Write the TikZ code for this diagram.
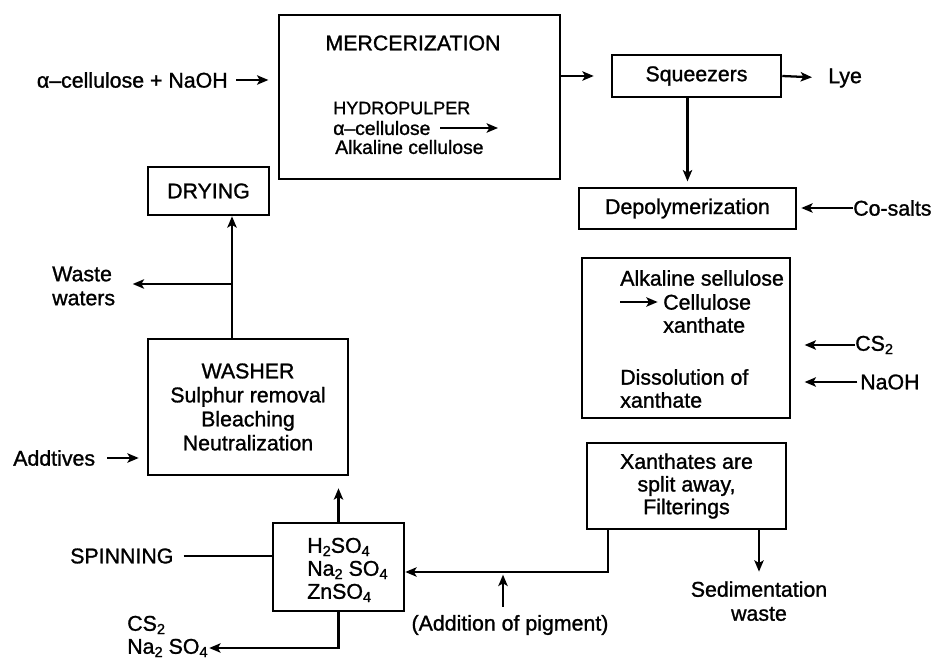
\documentclass[tikz,border=0pt]{standalone}
\usepackage{fontspec}
\setmainfont{Liberation Sans}
\newfontfamily\heavysans{Liberation Sans}[FakeBold=1.2]
\usetikzlibrary{arrows.meta}
% lowered small index for chemical formulas
\newcommand\chsub[1]{\raisebox{-0.3ex}{\fontsize{11}{11}\selectfont #1}}
\begin{document}
\begin{tikzpicture}[x=0.75pt,y=-0.75pt,
  every node/.style={font=\heavysans\fontsize{16}{18}\selectfont, inner sep=0pt},
  box/.style={draw, line width=1.9pt},
  flow/.style={line width=1.7pt, -{Stealth[length=8.5pt,width=7pt,inset=2pt]}},
  plain/.style={line width=1.7pt},
  small/.style={font=\heavysans\fontsize{14.5}{17}\selectfont}]
\useasboundingbox (0,0) rectangle (935,659);

% ---------- process boxes ----------
\node[box, minimum width=210.75pt, minimum height=123pt] (merc) at (419.5,97) {};
\node[box, minimum width=126.75pt, minimum height=31.5pt] (squeeze) at (696.5,76) {Squeezers};
\node[box, minimum width=162.75pt, minimum height=30.75pt] (depoly) at (687.5,208.5) {Depolymerization};
\node[box, minimum width=156pt, minimum height=120pt] (xanth) at (686,338) {};
\node[box, minimum width=149.25pt, minimum height=64.5pt, align=center,
      font=\heavysans\fontsize{16}{17}\selectfont] (split) at (686.5,486)
      {Xanthates are\\split away,\\Filterings};
\node[box, minimum width=98.25pt, minimum height=66pt] (spin) at (338.5,567) {};
\node[box, minimum width=150pt, minimum height=102pt, align=center,
      font=\heavysans\fontsize{16}{18}\selectfont] (washer) at (248,407)
      {WASHER\\Sulphur removal\\Bleaching\\Neutralization};
\node[box, minimum width=90.75pt, minimum height=36pt] (drying) at (208.5,191) {DRYING};

% ---------- texts inside the mercerization box ----------
\node (mtitle) at (413,43) {MERCERIZATION};
\node[anchor=west, font=\heavysans\fontsize{13.5}{15}\selectfont] (hydro) at (333,108) {HYDROPULPER};
\node[anchor=west, small] (acell) at (333,128) {α–cellulose};
\coordinate (acellend) at (498,128);
\node[anchor=west, small] (alkcell) at (335,147) {Alkaline cellulose};
\draw[flow, shorten <=7pt] (acell.east) -- (acellend);

% ---------- texts inside the xanthation box ----------
\node[anchor=west] (alks) at (620,278) {Alkaline sellulose};
\coordinate (xarrow) at (620,302);
\node[anchor=west] (cellx) at (663,302) {Cellulose};
\node[anchor=west] (xan1) at (663,325) {xanthate};
\node[anchor=west] (diss) at (620,377) {Dissolution of};
\node[anchor=west] (xan2) at (620,400) {xanthate};
\draw[flow, shorten >=4pt] (xarrow) -- (cellx.west);

% ---------- texts inside the spinning bath box ----------
\node[anchor=west, align=left, font=\heavysans\fontsize{16}{17.25}\selectfont] (bath) at (307,570)
  {H\chsub{2}SO\chsub{4}\\Na\chsub{2} SO\chsub{4}\\ZnSO\chsub{4}};

% ---------- outside labels ----------
\node[anchor=east] (feed) at (228,80) {α–cellulose + NaOH};
\node[anchor=west] (lye) at (828,78) {Lye};
\node[anchor=west] (cosalts) at (853,208) {Co-salts};
\node[anchor=west] (cs2) at (855,345) {CS\chsub{2}};
\node[anchor=west] (naoh) at (860,382) {NaOH};
\node[anchor=north, align=center] (sed) at (759,581) {Sedimentation\\waste};
\node (pigment) at (510,625) {(Addition of pigment)};
\node[anchor=west] (spinning) at (70,556) {SPINNING};
\node[anchor=west] (cs2b) at (127,625) {CS\chsub{2}};
\node[anchor=west] (na2so4) at (127,648) {Na\chsub{2} SO\chsub{4}};
\node[anchor=west] (addtives) at (13,458) {Addtives};
\node[anchor=west, align=left] (waste) at (52,286) {Waste\\waters};

% ---------- junction points ----------
\coordinate (splitout) at (608,529);
\coordinate (pigjoin) at (503,572);
\coordinate (wup) at (232,339);
\coordinate (wbranch) at (232,284);

% ---------- connectors ----------
\draw[flow, shorten <=6pt, shorten >=7pt] (feed.east) -- (feed.east -| merc.west);
\draw[flow, shorten >=12.75pt] (merc.east |- squeeze.west) -- (squeeze.west);
\draw[flow, shorten >=12pt] (squeeze.east) -- (lye.west);
\draw[flow, shorten >=4pt] (depoly.north |- squeeze.south) -- (depoly.north);
\draw[flow, shorten >=3pt] (cosalts.west) -- (cosalts.west -| depoly.east);
\draw[flow, shorten >=10pt] (cs2.west) -- (cs2.west -| xanth.east);
\draw[flow, shorten <=2pt, shorten >=10pt] (naoh.west) -- (naoh.west -| xanth.east);
\draw[flow] (splitout) |- (spin.east |- pigjoin);
\draw[flow, shorten >=7pt] (split.south -| sed.north) -- (sed.north);
\draw[flow, shorten <=6pt, shorten >=2pt] (pigjoin |- pigment.north) -- (pigjoin);
\draw[plain, shorten <=7.5pt] (spinning.east) -- (spinning.east -| spin.west);
\draw[flow, shorten >=9pt] (spin.north) -- (spin.north |- washer.south);
\draw[flow, shorten >=1pt] (spin.south) |- (na2so4.east);
\draw[flow] (wup) -- (wup |- drying.south);
\draw[flow, shorten >=13pt] (wbranch) -- (wbranch -| waste.east);
\draw[flow, shorten <=9pt, shorten >=6pt] (addtives.east) -- (addtives.east -| washer.west);
\end{tikzpicture}
\end{document}
